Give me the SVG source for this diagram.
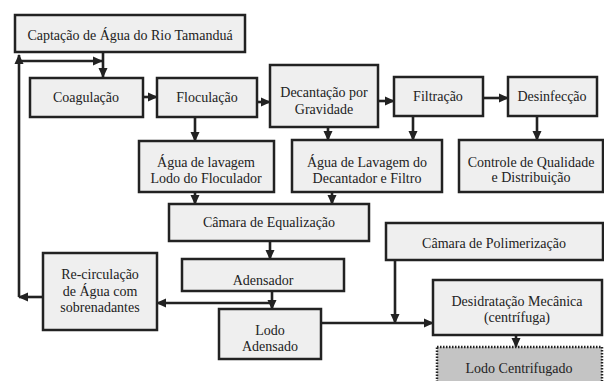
<svg xmlns="http://www.w3.org/2000/svg" width="604" height="381" viewBox="0 0 604 381">
<defs>
<style>
.box{fill:#efefef;stroke:#222;stroke-width:2.5}
.cent{fill:#c4c4c4;stroke:#222;stroke-width:2.5;stroke-dasharray:1.5 1.5}
.c{fill:none;stroke:#222;stroke-width:2.6}
</style>
<marker id="ah" markerUnits="userSpaceOnUse" markerWidth="10" markerHeight="10" viewBox="0 0 10 10" refX="9" refY="5" orient="auto">
<path d="M0,0.5 L10,5 L0,9.5 z" fill="#222"/>
</marker>
</defs>
<rect width="604" height="381" fill="#fff"/>
<g id="connectors">
<line class="c" x1="103" y1="53" x2="103" y2="77" marker-end="url(#ah)"/>
<line class="c" x1="43" y1="297" x2="19" y2="297" marker-end="url(#ah)"/>
<line class="c" x1="19" y1="297" x2="19" y2="55" marker-end="url(#ah)"/>
<polyline class="c" points="19,61 102,61" marker-end="url(#ah)"/>
<line class="c" x1="143" y1="97" x2="157" y2="97" marker-end="url(#ah)"/>
<line class="c" x1="257" y1="102" x2="270" y2="102" marker-end="url(#ah)"/>
<line class="c" x1="378" y1="101" x2="394" y2="101" marker-end="url(#ah)"/>
<line class="c" x1="483" y1="98" x2="508" y2="98" marker-end="url(#ah)"/>
<line class="c" x1="195" y1="117" x2="195" y2="141" marker-end="url(#ah)"/>
<line class="c" x1="328" y1="127" x2="328" y2="140" marker-end="url(#ah)"/>
<line class="c" x1="413" y1="116" x2="413" y2="140" marker-end="url(#ah)"/>
<line class="c" x1="537" y1="116" x2="537" y2="140" marker-end="url(#ah)"/>
<line class="c" x1="195" y1="192" x2="195" y2="204" marker-end="url(#ah)"/>
<line class="c" x1="332" y1="192" x2="332" y2="204" marker-end="url(#ah)"/>
<line class="c" x1="270" y1="241" x2="270" y2="259" marker-end="url(#ah)"/>
<line class="c" x1="272" y1="291" x2="272" y2="309" marker-end="url(#ah)"/>
<line class="c" x1="272" y1="303" x2="157" y2="303" marker-end="url(#ah)"/>
<line class="c" x1="395" y1="260" x2="395" y2="323" marker-end="url(#ah)"/>
<line class="c" x1="321" y1="323" x2="433" y2="323" marker-end="url(#ah)"/>
<line class="c" x1="516" y1="335" x2="516" y2="347" marker-end="url(#ah)"/>
</g>
<g font-family="Liberation Serif, Times New Roman, DejaVu Serif, serif" font-size="14" fill="#222" text-anchor="middle">
<g id="captacao"><rect class="box" x="15" y="15" width="230" height="37"/><text x="130" y="40">Captação de Água do Rio Tamanduá</text></g>
<g id="coagulacao"><rect class="box" x="30" y="78" width="113" height="39"/><text x="86" y="102">Coagulação</text></g>
<g id="floculacao"><rect class="box" x="157" y="78" width="100" height="39"/><text x="207" y="102">Floculação</text></g>
<g id="decantacao"><rect class="box" x="270" y="65" width="108" height="62"/><text x="324" y="97">Decantação por</text><text x="324" y="114">Gravidade</text></g>
<g id="filtracao"><rect class="box" x="394" y="77" width="89" height="39"/><text x="438" y="101">Filtração</text></g>
<g id="desinfeccao"><rect class="box" x="508" y="77" width="89" height="39"/><text x="552" y="101">Desinfecção</text></g>
<g id="agua-floculador"><rect class="box" x="139" y="141" width="135" height="51"/><text x="206" y="167">Água de lavagem</text><text x="206" y="183">Lodo do Floculador</text></g>
<g id="agua-decantador"><rect class="box" x="292" y="140" width="150" height="52"/><text x="367" y="167">Água de Lavagem do</text><text x="367" y="183">Decantador e Filtro</text></g>
<g id="controle"><rect class="box" x="459" y="140" width="144" height="52"/><text x="531" y="167">Controle de Qualidade</text><text x="531" y="182">e Distribuição</text></g>
<g id="equalizacao"><rect class="box" x="169" y="204" width="200" height="37"/><text x="269" y="227">Câmara de Equalização</text></g>
<g id="polimerizacao"><rect class="box" x="386" y="223" width="217" height="37"/><text x="494" y="248">Câmara de Polimerização</text></g>
<g id="adensador"><rect class="box" x="182" y="259" width="162" height="32"/><text x="263" y="285">Adensador</text></g>
<g id="recirculacao"><rect class="box" x="43" y="253" width="114" height="77"/><text x="100" y="279">Re-circulação</text><text x="100" y="296">de Água com</text><text x="100" y="312">sobrenadantes</text></g>
<g id="lodo-adensado"><rect class="box" x="219" y="309" width="102" height="50"/><text x="270" y="335">Lodo</text><text x="270" y="351">Adensado</text></g>
<g id="desidratacao"><rect class="box" x="433" y="280" width="169" height="55"/><text x="517" y="306">Desidratação Mecânica</text><text x="517" y="322">(centrífuga)</text></g>
<g id="lodo-centrifugado"><rect class="cent" x="437" y="347" width="165" height="40"/><text x="519" y="373">Lodo Centrifugado</text></g>
</g>
</svg>
